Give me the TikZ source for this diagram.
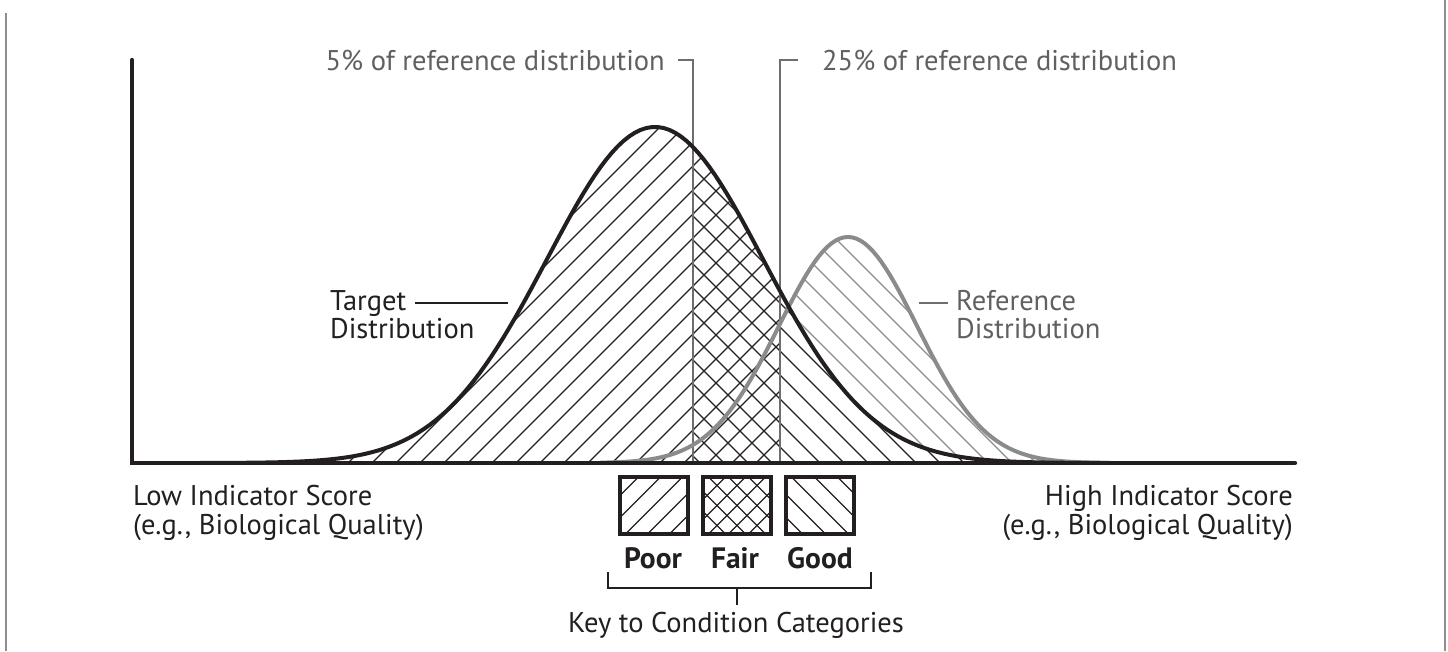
\documentclass[tikz,border=0pt]{standalone}
\usepackage{fontspec}
\setmainfont{PT Sans}
\definecolor{ink}{HTML}{231F20}
\definecolor{refgray}{HTML}{8A8B8D}
\definecolor{txtgray}{HTML}{5F6062}
\definecolor{linegray}{HTML}{6D6E71}
\definecolor{framegray}{HTML}{8E8E92}
\begin{document}
\begin{tikzpicture}[x=1pt,y=-1pt,
  hatch/.style={ink, line width=1.3pt},
  ghatch/.style={refgray, line width=1.3pt},
  lbl/.style={font=\fontsize{28.5}{31}\selectfont, text=ink, inner sep=0pt},
  glbl/.style={lbl, text=txtgray},
  keylbl/.style={lbl, font=\fontsize{29.5}{32}\selectfont\bfseries},
  keybox/.style={draw=ink, line width=4.3pt, minimum width=67.7pt, minimum height=56.7pt, inner sep=0pt},
  axisline/.style={ink, line width=4.3pt, line cap=round},
  tgtcurve/.style={ink, line width=4pt},
  refcurve/.style={refgray, line width=4pt},
  marker/.style={linegray, line width=1.6pt},
  leader/.style={line width=1.6pt},
  bracketline/.style={ink, line width=2pt},
  frame/.style={framegray, line width=2.2pt}]
\useasboundingbox (0,0) rectangle (1448,651);

% frame lines
\coordinate (fl1) at (6,13); \coordinate (fl2) at (6,651);
\coordinate (fr1) at (1445,0); \coordinate (fr2) at (1445,651);
\draw[frame] (fl1) -- (fl2);
\draw[frame] (fr1) -- (fr2);

% gray hatch under reference distribution (good side)
\begin{scope}
  \clip (781,0) rectangle (1300,463);
  \clip (600,463) -- plot[domain=600:1100,samples=120] (\x,{463-226*exp(-0.5*((\x-848)/69)*((\x-848)/69))}) -- (1100,463) -- cycle;
  \foreach \a in {796,820,...,1500} \draw[ghatch] (\a,463) -- ++(-400,-400);
\end{scope}

% hatches under target distribution
\begin{scope}
  \clip (200,463) -- plot[domain=200:1110,samples=160] (\x,{463-336*exp(-0.5*((\x-655)/108)*((\x-655)/108))}) -- (1110,463) -- cycle;
  \begin{scope}
    \clip (100,0) rectangle (692,463);
    \foreach \a in {-300,-276,...,700} \draw[hatch] (\a,463) -- ++(400,-400);
  \end{scope}
  \begin{scope}
    \clip (692,0) rectangle (781,463);
    \foreach \a in {300,324,...,800} \draw[hatch] (\a,463) -- ++(400,-400);
    \foreach \a in {700,724,...,1200} \draw[hatch] (\a,463) -- ++(-400,-400);
  \end{scope}
  \begin{scope}
    \clip (781,0) rectangle (1300,463);
    \fill[white] (781,0) rectangle (1300,463);
    \foreach \a in {796,820,...,1500} \draw[hatch] (\a,463) -- ++(-400,-400);
  \end{scope}
\end{scope}

% percentile markers
\coordinate (p5top) at (678,60); \coordinate (p5bot) at (693,463);
\coordinate (p25top) at (798,60); \coordinate (p25bot) at (780,463);
\draw[marker] (p5top) -| (p5bot);
\draw[marker] (p25top) -| (p25bot);

% curves
\draw[refcurve] plot[domain=600:1100,samples=120] (\x,{463-226*exp(-0.5*((\x-848)/69)*((\x-848)/69))});
\draw[tgtcurve] plot[domain=200:1110,samples=160] (\x,{463-336*exp(-0.5*((\x-655)/108)*((\x-655)/108))});

% axes
\coordinate (origin) at (132,463);
\coordinate (ytop) at (132,60);
\coordinate (xend) at (1295,463);
\draw[axisline] (ytop) -- (origin) -- (xend);

% top labels
\node[glbl, anchor=base east] (p5lbl) at (665,70) {5\% of reference distribution};
\node[glbl, anchor=base west] (p25lbl) at (822,70) {25\% of reference distribution};

% distribution labels
\node[lbl, anchor=base west] (tgtA) at (330,310) {Target};
\node[lbl, anchor=base west] (tgtB) at (330,338) {Distribution};
\coordinate (tgtL) at (415,303); \coordinate (tgtR) at (508,303);
\draw[leader, ink] (tgtL) -- (tgtR);
\node[glbl, anchor=base west] (refA) at (956,310) {Reference};
\node[glbl, anchor=base west] (refB) at (956,338) {Distribution};
\coordinate (refL) at (919,303); \coordinate (refR) at (948,303);
\draw[leader, linegray] (refL) -- (refR);

% axis end labels
\node[lbl, anchor=base west] (lowA) at (133,505) {Low Indicator Score};
\node[lbl, anchor=base west] (lowB) at (133,534) {(e.g., Biological Quality)};
\node[lbl, anchor=base east] (highA) at (1293,505) {High Indicator Score};
\node[lbl, anchor=base east] (highB) at (1293,534) {(e.g., Biological Quality)};

% key boxes
\node[keybox, path picture={
  \foreach \k in {-4,...,4} \draw[hatch] ([xshift=\k*22pt]path picture bounding box.center) +(-45pt,-45pt) -- +(45pt,45pt);}] (poorbox) at (654,505.5) {};
\node[keybox, path picture={
  \foreach \k in {-5,...,5} {\draw[hatch] ([xshift=\k*20pt]path picture bounding box.center) +(-45pt,-45pt) -- +(45pt,45pt);
  \draw[hatch] ([xshift=\k*20pt]path picture bounding box.center) +(-45pt,45pt) -- +(45pt,-45pt);}}] (fairbox) at (737,505.5) {};
\node[keybox, path picture={
  \foreach \k in {-4,...,4} \draw[hatch] ([xshift=\k*23pt]path picture bounding box.center) +(-45pt,45pt) -- +(45pt,-45pt);}] (goodbox) at (820,505.5) {};

\node[keylbl, anchor=base] (poorlbl) at (653,568) {Poor};
\node[keylbl, anchor=base] (fairlbl) at (735,568) {Fair};
\node[keylbl, anchor=base] (goodlbl) at (820,568) {Good};

% bracket
\coordinate (brL) at (608,572); \coordinate (brR) at (871,572);
\coordinate (brM) at (737,588); \coordinate (brT) at (737,605);
\draw[bracketline] (brL) |- (brR |- brM) -- (brR);
\draw[bracketline] (brM) -- (brT);
\node[lbl, anchor=base] (keylbl) at (736,632) {Key to Condition Categories};
\end{tikzpicture}
\end{document}
